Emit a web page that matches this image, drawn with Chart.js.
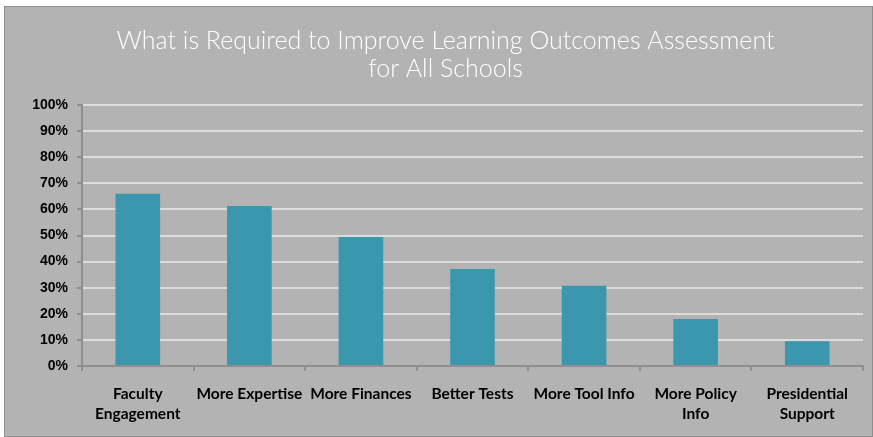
<!DOCTYPE html>
<html>
  <head>
    <title>Learning Outcomes Assessment</title>
    <script src="https://cdn.jsdelivr.net/npm/chart.js"></script>
    <style>
      body { margin: 0; background: #fff; }
      #panel {
        position: absolute; left: 4px; top: 6px; width: 867px; height: 429px;
        background: #b3b3b3; border: 1px solid #8e8e8e;
      }
      #wrap { position: absolute; left: 0; top: 0; width: 873px; height: 437px; }
    </style>
  </head>
  <body>
    <div id="panel"></div>
    <div id="wrap"><canvas id="chart" width="873" height="437"></canvas></div>

    <script>
      // 카테고리와 값
      const categories = [
        ["Faculty", "Engagement"],
        "More Expertise",
        "More Finances",
        "Better Tests",
        "More Tool Info",
        ["More Policy", "Info"],
        ["Presidential", "Support"],
      ];
      const percentValues = [66, 61.3, 49.4, 37.2, 30.7, 18, 9.5];
      const yTicks = [0, 10, 20, 30, 40, 50, 60, 70, 80, 90, 100];

      const ctx = document.getElementById("chart").getContext("2d");
      new Chart(ctx, {
        type: "bar",
        data: {
          labels: categories,
          datasets: [
            {
              data: percentValues,
              backgroundColor: "#3a97ad",
              borderWidth: 0,
              barPercentage: 0.8,
              categoryPercentage: 0.5,
            },
          ],
        },
        options: {
          responsive: false,
          animation: false,
          devicePixelRatio: 1,
          layout: { padding: { left: 28, right: 10, top: 0, bottom: 0 } },
          plugins: {
            legend: { display: false },
            tooltip: { enabled: false },
            title: {
              display: true,
              text: [
                "What is Required to Improve Learning Outcomes Assessment",
                "for All Schools",
              ],
              color: "#ffffff",
              font: { family: "Lato", size: 25, weight: "300", lineHeight: 1.12 },
              padding: { top: 27, bottom: 22 },
            },
          },
          scales: {
            x: {
              afterFit: (scale) => { scale.height = 71; },
              grid: {
                drawOnChartArea: false,
                color: "#8f8f8f",
                tickLength: 5,
                lineWidth: 2,
              },
              border: { color: "#8f8f8f", width: 2 },
              ticks: {
                color: "#000",
                padding: 13,
                maxRotation: 0,
                autoSkip: false,
                font: { family: "Lato", size: 15.5, weight: "bold", lineHeight: 1.3 },
              },
            },
            y: {
              min: 0,
              max: 100,
              afterFit: (scale) => { scale.width = 54; },
              afterBuildTicks: (scale) => {
                scale.ticks = yTicks.map((v) => ({ value: v }));
              },
              grid: {
                color: "#dcdcdc",
                lineWidth: 2,
                tickColor: "#8f8f8f",
                tickLength: 5,
              },
              border: { color: "#8f8f8f", width: 2 },
              ticks: {
                color: "#000",
                padding: 9,
                font: { family: "Liberation Sans", size: 14, weight: "bold" },
                callback: (v) => v + "%",
              },
            },
          },
        },
      });
    </script>
  </body>
</html>
